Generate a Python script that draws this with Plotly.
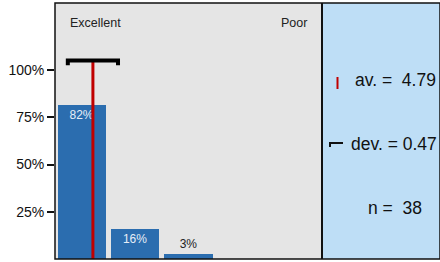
import plotly.graph_objects as go

# ---- data ----
categories = [5, 4, 3, 2, 1]          # rating scale, Excellent (5) -> Poor (1)
counts = [31, 6, 1, 0, 0]
n_total = 38
shares = [c / n_total for c in counts]
bar_labels = ["82%", "16%", "3%", "", ""]
mean_value = 4.79
std_value = 0.47
tick_vals = [0.25, 0.5, 0.75, 1.0]
tick_text = ["25%", "50%", "75%", "100%"]

FONT = "Liberation Sans, Arial, sans-serif"
W, H = 440, 262
L, R, T, B = 55, 0, 3, 3
GRAY_RIGHT = 322
xdom_end = (GRAY_RIGHT - L) / (W - L - R)

def px(xp):
    return (xp - L) / (W - L - R)

def py(yp):
    return (H - B - yp) / (H - T - B)

xpos = [5 - c for c in categories]   # slot positions 0..4
mean_pos = 5 - mean_value

fig = go.Figure()
fig.add_trace(go.Bar(
    x=xpos, y=shares, width=0.9,
    marker=dict(color="#2B6DAF", line=dict(width=0)),
    text=bar_labels,
    textposition=["inside", "inside", "outside", "none", "none"],
    insidetextanchor="end",
    insidetextfont=dict(color="#E6EEF7", size=12, family=FONT),
    outsidetextfont=dict(color="#222222", size=12, family=FONT),
    cliponaxis=False,
    hoverinfo="skip",
))
std_y = 1.05
# mean line
fig.add_trace(go.Scatter(
    x=[mean_pos, mean_pos], y=[0, std_y], mode="lines",
    line=dict(color="#C00000", width=3), hoverinfo="skip",
))
# std deviation bar with end caps
fig.add_trace(go.Scatter(
    x=[mean_pos - std_value, mean_pos - std_value, mean_pos + std_value, mean_pos + std_value],
    y=[std_y - 0.025, std_y, std_y, std_y - 0.025], mode="lines",
    line=dict(color="#000000", width=4), hoverinfo="skip",
))

shapes = [
    # blue info panel
    dict(type="rect", xref="paper", yref="paper", x0=xdom_end, x1=1, y0=0, y1=1,
         fillcolor="#BEDEF6", line=dict(width=0), layer="below"),
    # outer frame
    dict(type="rect", xref="paper", yref="paper", x0=0, x1=1, y0=0, y1=1,
         line=dict(color="#111111", width=1.5)),
    # divider
    dict(type="line", xref="paper", yref="paper", x0=xdom_end, x1=xdom_end, y0=0, y1=1,
         line=dict(color="#111111", width=2)),
    # legend mark for mean
    dict(type="line", xref="paper", yref="paper", x0=px(337.5), x1=px(337.5), y0=py(77), y1=py(89),
         line=dict(color="#C00000", width=2)),
    # legend mark for deviation
    dict(type="path", xref="paper", yref="paper",
         path=f"M {px(330)} {py(147)} L {px(330)} {py(143)} L {px(343)} {py(143)}",
         line=dict(color="#111111", width=2)),
]

annotations = [
    dict(text="Excellent", xref="paper", yref="paper", x=px(68), y=py(23),
         xanchor="left", yanchor="middle", showarrow=False,
         font=dict(size=12.5, color="#222222", family=FONT)),
    dict(text="Poor", xref="paper", yref="paper", x=px(309), y=py(23),
         xanchor="right", yanchor="middle", showarrow=False,
         font=dict(size=12.5, color="#222222", family=FONT)),
    dict(text=f"av. =  {mean_value:.2f}", xref="paper", yref="paper", x=px(353), y=py(80),
         xanchor="left", yanchor="middle", showarrow=False,
         font=dict(size=17.5, color="#111111", family=FONT)),
    dict(text=f"dev. = {std_value:.2f}", xref="paper", yref="paper", x=px(349), y=py(144),
         xanchor="left", yanchor="middle", showarrow=False,
         font=dict(size=17.5, color="#111111", family=FONT)),
    dict(text=f"n =  {n_total}", xref="paper", yref="paper", x=px(395), y=py(208),
         xanchor="center", yanchor="middle", showarrow=False,
         font=dict(size=17.5, color="#111111", family=FONT)),
]

fig.update_layout(
    width=W, height=H,
    margin=dict(l=L, r=R, t=T, b=B),
    paper_bgcolor="white", plot_bgcolor="#E5E5E5",
    showlegend=False, bargap=0,
    shapes=shapes, annotations=annotations,
    xaxis=dict(domain=[0, xdom_end], range=[-0.5, 4.5], showticklabels=False,
               showgrid=False, zeroline=False, ticks=""),
    yaxis=dict(range=[0, 1.355], tickvals=tick_vals, ticktext=tick_text,
               ticks="outside", ticklen=7, tickwidth=2, tickcolor="#111111",
               tickfont=dict(size=14, color="#111111", family=FONT),
               showgrid=False, zeroline=False),
)

fig.write_html("out.html",
               config={"displayModeBar": False, "staticPlot": True},
               post_script="document.body.style.margin='0';document.body.style.overflow='hidden';")
